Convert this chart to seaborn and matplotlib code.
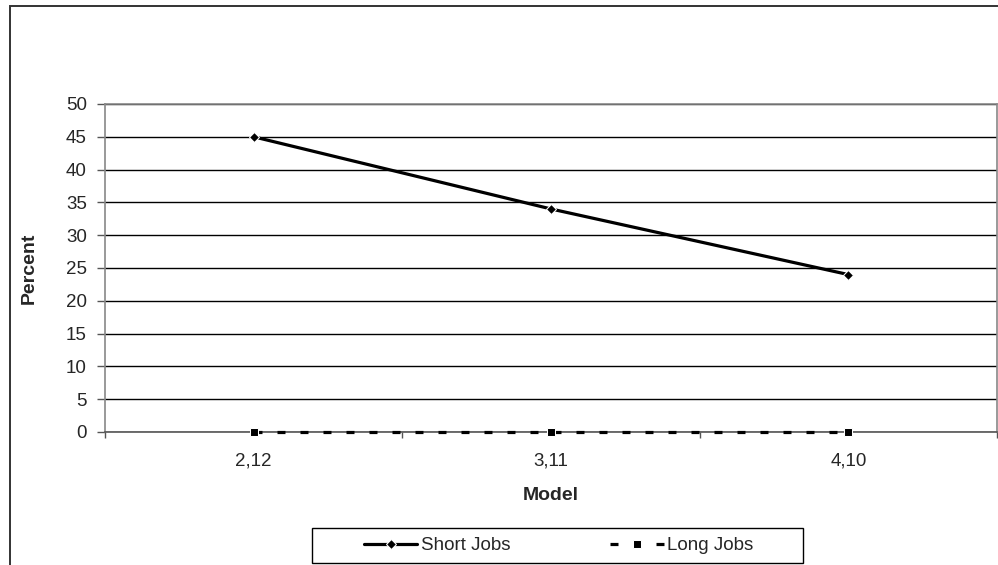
import numpy as np
import pandas as pd

import matplotlib
matplotlib.use('Agg')

import matplotlib.pyplot as plt
import matplotlib.patches as mpatches
from matplotlib.ticker import FixedLocator
import seaborn as sns


models = ["2,12", "3,11", "4,10"]
short_jobs = [45, 34, 24]
long_jobs = [0, 0, 0]


def main():
    sns.set_style('white')
    plt.rcParams['font.family'] = ['Liberation Sans', 'DejaVu Sans']

    df = pd.DataFrame({
        "Model": models * 2,
        "Percent": short_jobs + long_jobs,
        "series": ["Short Jobs"] * 3 + ["Long Jobs"] * 3,
    })

    fig = plt.figure(figsize = (9.98, 5.65), dpi = 100)
    # outer chart frame (Excel style), runs off the right/bottom edge
    fig.patches.append(mpatches.Rectangle((9.5 / 998, -0.2), 1.2, 1.2 - 5.5 / 565,
        transform = fig.transFigure, fill = False, edgecolor = "#333333", lw = 1.4))

    ax = fig.add_axes([105 / 998, 1 - 432 / 565, 892 / 998, 328 / 565])

    sns.lineplot(data = df[df["series"] == "Short Jobs"], x = "Model", y = "Percent",
                 color = "black", lw = 2.3, marker = "D", markersize = 5,
                 label = "Short Jobs", ax = ax)
    sns.lineplot(data = df[df["series"] == "Long Jobs"], x = "Model", y = "Percent",
                 color = "black", lw = 2.3, marker = "s", markersize = 6,
                 label = "Long Jobs", ax = ax)
    ax.lines[-1].set_dashes((2.5, 4.7))
    ax.lines[-1].set_zorder(5)
    ax.lines[0].set_zorder(6)
    for ln in ax.lines:
        ln.set_clip_on(False)

    ax.set_xlim(-0.5, 2.5)
    ax.set_ylim(0, 50)
    ax.set_yticks(np.arange(0, 51, 5))
    ax.set_xticks(range(len(models)))
    ax.set_xticklabels(models)
    ax.xaxis.set_minor_locator(FixedLocator([-0.5, 0.5, 1.5, 2.5]))
    ax.tick_params(axis = "x", which = "major", length = 0, labelsize = 13.5, pad = 15)
    ax.tick_params(axis = "x", which = "minor", length = 4, width = 1, direction = "out",
                   bottom = True, color = "#555555")
    ax.tick_params(axis = "y", length = 6, width = 1, direction = "out", left = True,
                   labelsize = 13.5, pad = 7, color = "#555555")

    ax.grid(axis = "y", color = "black", lw = 1)
    ax.set_axisbelow(True)
    for s in ["left", "top", "right"]:
        ax.spines[s].set_color("#888888")
        ax.spines[s].set_linewidth(1.2)
    ax.spines["bottom"].set_color("#555555")
    ax.spines["bottom"].set_linewidth(1.2)

    ax.set_xlabel("Model", fontsize = 14, fontweight = "bold", labelpad = 12)
    ax.set_ylabel("Percent", fontsize = 14, fontweight = "bold", labelpad = 20)

    handles, labels = ax.get_legend_handles_labels()
    ax.get_legend().remove()
    fig.patches.append(mpatches.Rectangle((312 / 998, 1 - 563 / 565), 491 / 998, 35 / 565,
        transform = fig.transFigure, fill = False, edgecolor = "black", lw = 1.0))
    fig.legend(handles, labels, loc = "center left", bbox_to_anchor = (364 / 998, 1 - 545.5 / 565),
               ncol = 2, frameon = False, fontsize = 13.5, borderpad = 0, borderaxespad = 0,
               columnspacing = 5.3, handlelength = 2.85, handletextpad = 0.2)

    fig.savefig("out.png", dpi = 100)
    plt.close()


if __name__ == '__main__':
    main()
